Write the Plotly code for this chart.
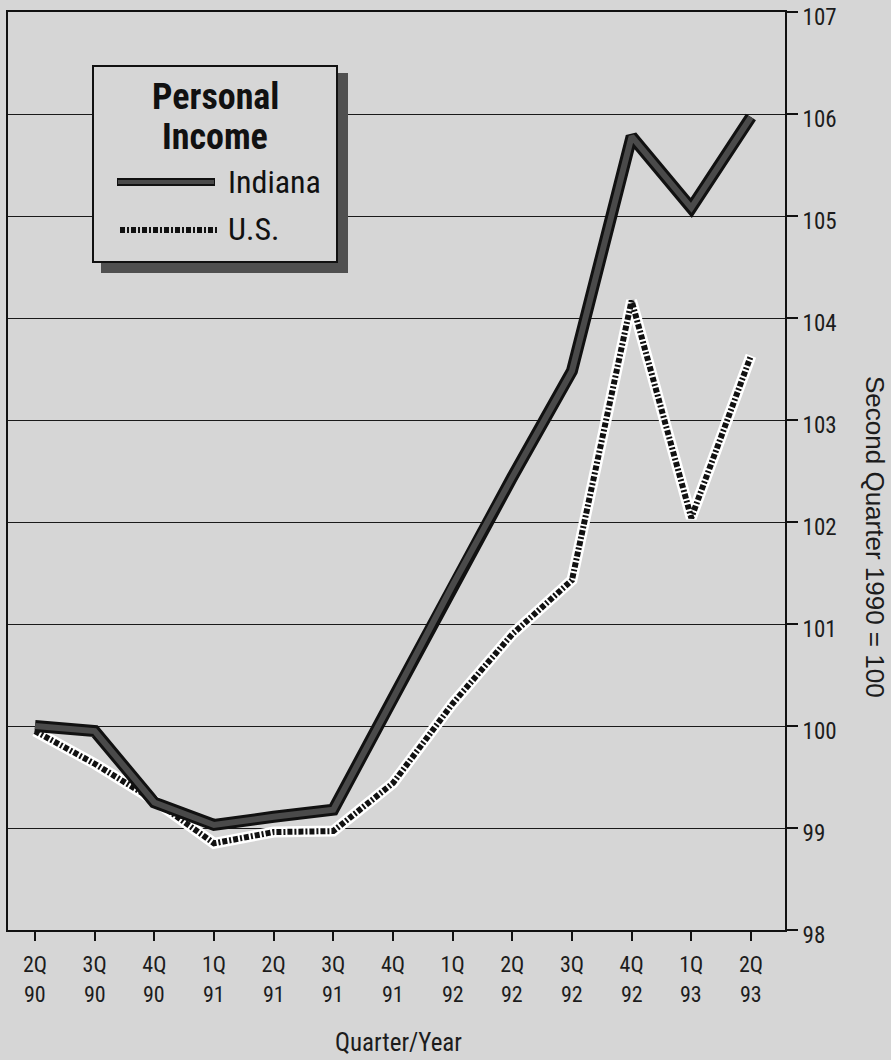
import plotly.graph_objects as go

# ---- data ----
quarters = ["2Q 90", "3Q 90", "4Q 90", "1Q 91", "2Q 91", "3Q 91", "4Q 91",
            "1Q 92", "2Q 92", "3Q 92", "4Q 92", "1Q 93", "2Q 93"]
quarter_labels = ["2Q", "3Q", "4Q", "1Q", "2Q", "3Q", "4Q", "1Q", "2Q", "3Q", "4Q", "1Q", "2Q"]
year_labels = ["90", "90", "90", "91", "91", "91", "91", "92", "92", "92", "92", "93", "93"]
indiana = [100.0, 99.95, 99.25, 99.03, 99.11, 99.18, 100.27, 101.38, 102.44, 103.48, 105.78, 105.08, 105.97]
us = [99.95, 99.63, 99.27, 98.85, 98.96, 98.97, 99.44, 100.22, 100.90, 101.43, 104.17, 102.04, 103.63]
y_ticks = [98, 99, 100, 101, 102, 103, 104, 105, 106, 107]

W, H = 891, 1060
ML, MR, MT, MB = 8, 106, 12, 130
PW, PH = W - ML - MR, H - MT - MB

BG = "#d6d6d6"
FONT = "Liberation Sans Narrow, Roboto Condensed, DejaVu Sans Condensed, Liberation Sans, Arial"
WIDE = "Liberation Sans, Arial, sans-serif"
TXT = "#1c1c1c"


def px(x):
    return (x - ML) / PW


def py(y):
    return (H - MB - y) / PH


fig = go.Figure()

# U.S. line: white band with black square/bar pattern
fig.add_trace(go.Scatter(x=quarters, y=us, mode="lines", showlegend=False,
                         line=dict(color="white", width=11), hoverinfo="skip"))
fig.add_trace(go.Scatter(x=quarters, y=us, mode="lines", name="U.S.", showlegend=False,
                         line=dict(color="#111111", width=6, dash="5px,2px,2px,2px")))
# Indiana line: black outline with dark gray core
fig.add_trace(go.Scatter(x=quarters, y=indiana, mode="lines", showlegend=False,
                         line=dict(color="#111111", width=12), hoverinfo="skip"))
fig.add_trace(go.Scatter(x=quarters, y=indiana, mode="lines", name="Indiana", showlegend=False,
                         line=dict(color="#4a4a4a", width=6)))

shapes = []
# legend box shadow and box
shapes.append(dict(type="rect", xref="paper", yref="paper",
                   x0=px(101), x1=px(348), y0=py(273), y1=py(73),
                   fillcolor="#505050", line=dict(width=0), layer="above"))
shapes.append(dict(type="rect", xref="paper", yref="paper",
                   x0=px(93), x1=px(337), y0=py(262), y1=py(66),
                   fillcolor=BG, line=dict(color="#111111", width=2), layer="above"))
# legend samples
shapes.append(dict(type="line", xref="paper", yref="paper",
                   x0=px(117), x1=px(215), y0=py(182), y1=py(182),
                   line=dict(color="#111111", width=8), layer="above"))
shapes.append(dict(type="line", xref="paper", yref="paper",
                   x0=px(118), x1=px(214), y0=py(182), y1=py(182),
                   line=dict(color="#4a4a4a", width=4), layer="above"))
shapes.append(dict(type="line", xref="paper", yref="paper",
                   x0=px(120), x1=px(217), y0=py(230), y1=py(230),
                   line=dict(color="#111111", width=6, dash="5px,2px,2px,2px"), layer="above"))

annotations = [
    dict(text="<b>Personal</b>", xref="paper", yref="paper", x=px(215), y=py(97),
         showarrow=False, xanchor="center", yanchor="middle",
         font=dict(family=FONT, size=36, color="#111111")),
    dict(text="<b>Income</b>", xref="paper", yref="paper", x=px(215), y=py(137),
         showarrow=False, xanchor="center", yanchor="middle",
         font=dict(family=FONT, size=36, color="#111111")),
    dict(text="Indiana", xref="paper", yref="paper", x=px(226), y=py(182),
         showarrow=False, xanchor="left", yanchor="middle",
         font=dict(family=FONT, size=32, color="#111111")),
    dict(text="U.S.", xref="paper", yref="paper", x=px(226), y=py(229),
         showarrow=False, xanchor="left", yanchor="middle",
         font=dict(family=FONT, size=32, color="#111111")),
    dict(text="Quarter/Year", xref="paper", yref="paper", x=px(398), y=py(1042),
         showarrow=False, xanchor="center", yanchor="middle",
         font=dict(family=FONT, size=25, color=TXT)),
    dict(text="Second Quarter 1990 = 100", xref="paper", yref="paper", x=px(875), y=py(537),
         showarrow=False, xanchor="center", yanchor="middle", textangle=90,
         font=dict(family=WIDE, size=26, color=TXT)),
]
# second row of the category labels (years), placed under each quarter
for q, yr in zip(quarters, year_labels):
    annotations.append(dict(text=yr, xref="x", yref="paper", x=q, y=py(995),
                            showarrow=False, xanchor="center", yanchor="middle",
                            font=dict(family=FONT, size=22, color=TXT)))

fig.update_layout(
    width=W, height=H,
    margin=dict(l=ML, r=MR, t=MT, b=MB, pad=0),
    paper_bgcolor=BG, plot_bgcolor=BG,
    showlegend=False,
    shapes=shapes, annotations=annotations,
    font=dict(family=FONT, size=24, color=TXT),
    xaxis=dict(
        type="category", range=[-0.4526, 12.571], automargin=False,
        tickmode="array", tickvals=quarters, ticktext=quarter_labels,
        ticks="outside", ticklen=9, tickwidth=1.5, tickcolor="#111111",
        ticklabelstandoff=5,
        showgrid=False, zeroline=False,
        showline=True, linecolor="#111111", linewidth=2, mirror=True,
        tickfont=dict(family=FONT, size=22, color=TXT),
    ),
    yaxis=dict(
        side="right", range=[98, 107], automargin=False,
        tickmode="array", tickvals=y_ticks, ticklabeloverflow="allow",
        ticklabelshift=5,
        ticks="outside", ticklen=11, tickwidth=1.5, tickcolor="#111111",
        showgrid=True, gridcolor="#1a1a1a", gridwidth=1.3,
        zeroline=False,
        showline=True, linecolor="#111111", linewidth=2, mirror=True,
        tickfont=dict(family=FONT, size=23, color=TXT),
    ),
)

fig.write_html("out.html", config={"displayModeBar": False},
               post_script="document.body.style.margin='0';document.body.style.padding='0';")
